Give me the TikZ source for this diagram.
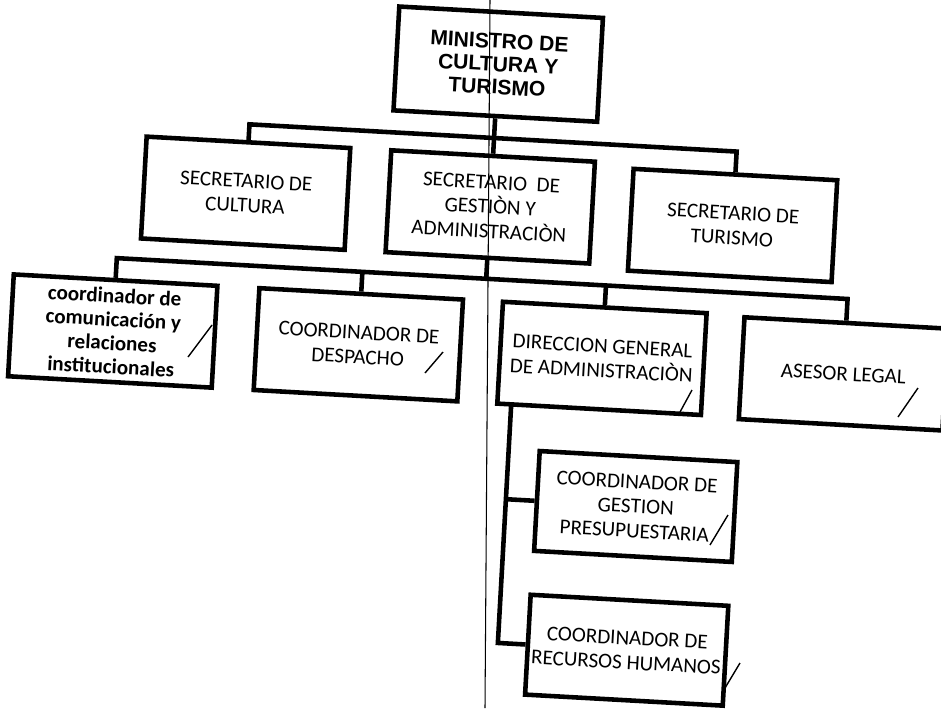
\documentclass[tikz,border=0pt]{standalone}
\usepackage{fontspec}
\setmainfont{Carlito}
\newfontfamily\ministrofont{Liberation Sans}

\begin{document}
\begin{tikzpicture}[x=0.02cm,y=-0.02cm]
  \tikzstyle{every node}+=[inner sep=0pt]
  \tikzstyle{cargo}=[draw=black, line width=2.6pt, align=center, minimum width=4.08cm, minimum height=2.04cm, font=\fontsize{12}{14}\selectfont]
  \tikzstyle{ministro}=[cargo, minimum height=2.08cm, font=\ministrofont\bfseries\fontsize{12}{13}\selectfont]
  \tikzstyle{subcargo}=[cargo, minimum width=3.96cm, minimum height=2cm]
  \tikzstyle{enlace}=[draw=black, line width=2.6pt]
  \tikzstyle{firma}=[draw=black, line width=0.8pt]

  \useasboundingbox (0,0) rectangle (941,708);

  \begin{scope}[rotate around={-3.2:(470,354)}, transform shape]
    % nivel 1 y 2
    \node[ministro] (ministro) at (482,63) {MINISTRO DE\\CULTURA Y\\TURISMO};
    \node[cargo] (cultura) at (237,206) {SECRETARIO DE\\CULTURA};
    \node[cargo] (gestion) at (482,206) {SECRETARIO~ DE\\GESTIÒN Y\\ADMINISTRACIÒN};
    \node[cargo] (turismo) at (725,211) {SECRETARIO DE\\TURISMO};
    % nivel 3
    \node[cargo, font=\bfseries\fontsize{12}{13.5}\selectfont] (comun) at (112,351) {coordinador de\\comunicación y\\relaciones\\institucionales};
    \node[cargo] (despacho) at (358,351) {COORDINADOR DE\\DESPACHO};
    \node[cargo] (dga) at (602,351) {DIRECCION GENERAL\\DE ADMINISTRACIÒN};
    \node[cargo] (asesor) at (844,353) {ASESOR LEGAL};
    % nivel 4
    \node[subcargo] (gp) at (644,497) {COORDINADOR DE\\GESTION\\PRESUPUESTARIA};
    \node[subcargo] (rh) at (643,641) {COORDINADOR DE\\RECURSOS HUMANOS};

    \coordinate (t0) at (237,137);
    \coordinate (t2) at (725,137);
    \coordinate (m0) at (112,278);
    \coordinate (m1) at (358,278);
    \coordinate (m2) at (482,278);
    \coordinate (m3) at (602,278);
    \coordinate (m4) at (844,278);
    \coordinate (v0) at (514,402);
    \coordinate (v1) at (514,497);
    \coordinate (v2) at (514,641);

    \draw[enlace] (cultura.north) -- (t0) -- (t2) -- (turismo.north);
    \draw[enlace] (ministro.south) -- (gestion.north);
    \draw[enlace] (comun.north) -- (m0) -- (m4) -- (asesor.north);
    \draw[enlace] (gestion.south) -- (m2);
    \draw[enlace] (m1) -- (despacho.north);
    \draw[enlace] (m3) -- (dga.north);
    \draw[enlace] (v0) -- (v2) -- (rh.west);
    \draw[enlace] (v1) -- (gp.west);
  \end{scope}

  % marcas a mano
  \draw[firma] (188,357) -- (212,325);
  \draw[firma] (425,373) -- (443,352);
  \draw[firma] (680,412) -- (692,390);
  \draw[firma] (898,417) -- (918,388);
  \draw[firma] (710,545) -- (728,515);
  \draw[firma] (725,688) -- (740,663);

  % pliegue del escaneo
  \coordinate (pliegue arriba) at (490,0);
  \coordinate (pliegue abajo) at (485,708);
  \draw[line width=0.6pt] (pliegue arriba) -- (pliegue abajo);
\end{tikzpicture}
\end{document}
